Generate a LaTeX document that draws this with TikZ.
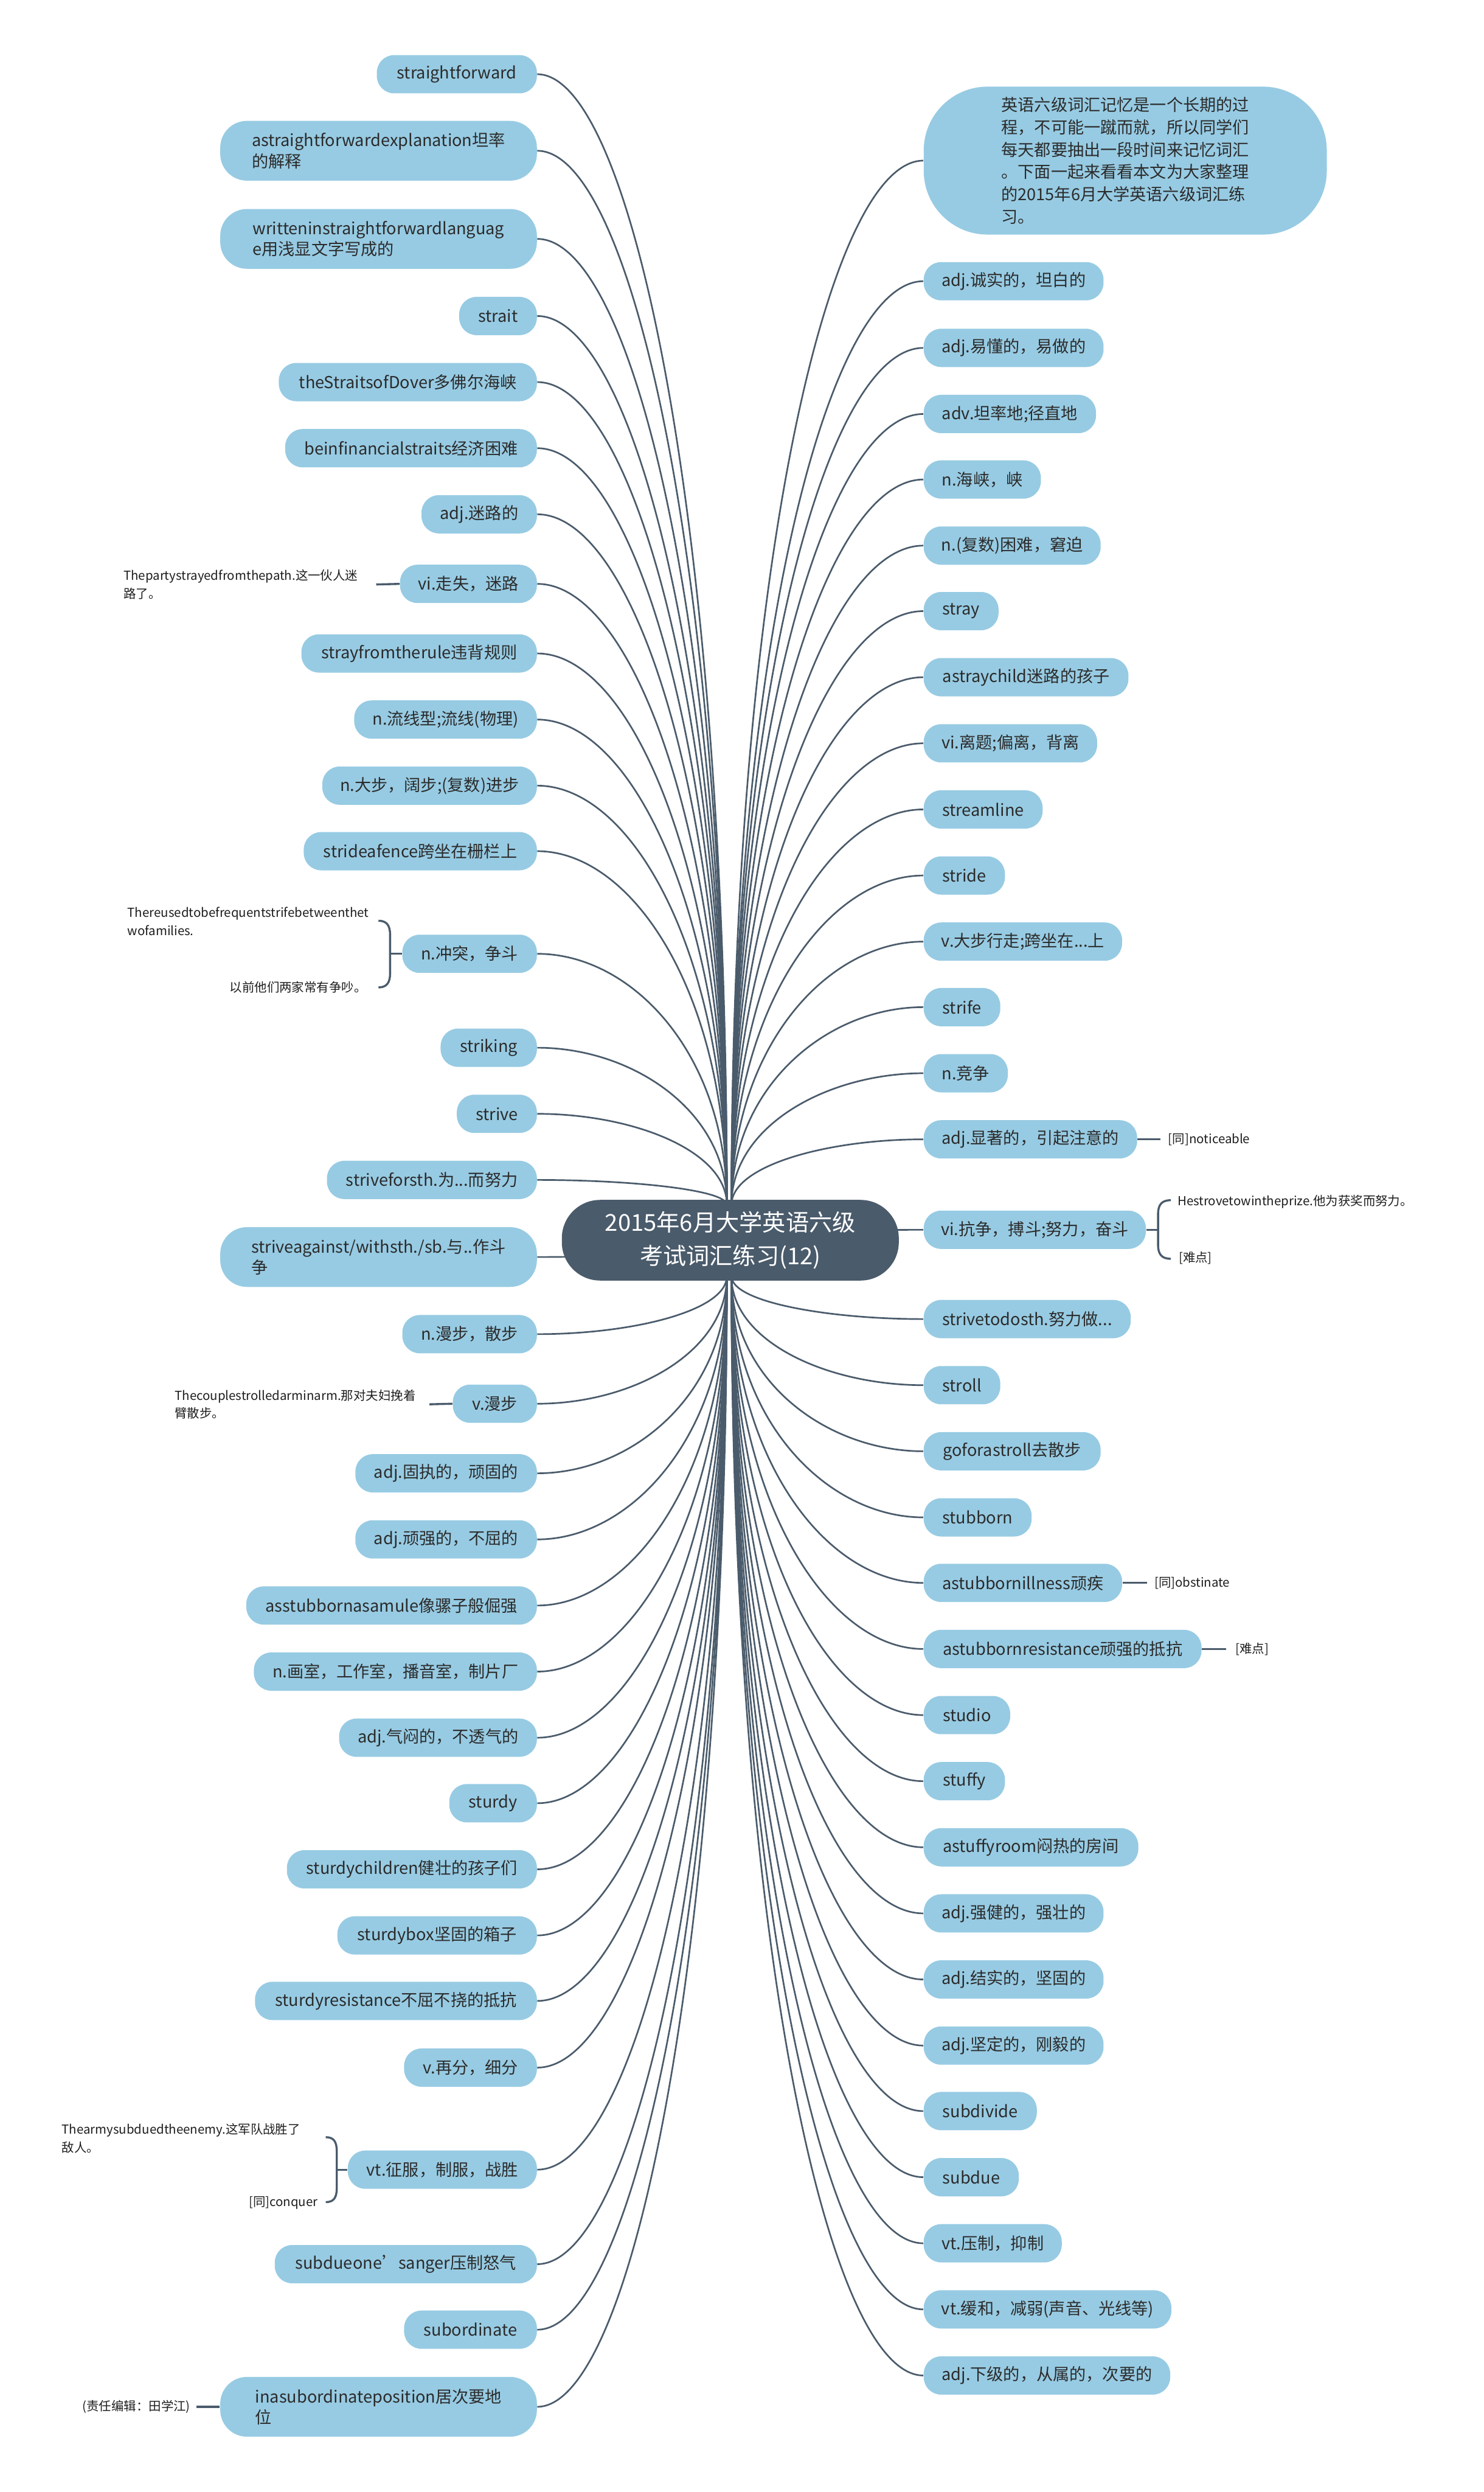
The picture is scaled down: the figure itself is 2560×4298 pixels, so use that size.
\documentclass[tikz,border=0pt]{standalone}
\usepackage{fontspec}
\setmainfont{Noto Sans CJK SC}
\usetikzlibrary{calc,backgrounds}
\definecolor{nb}{HTML}{97CBE3}
\definecolor{rootc}{HTML}{4A5B6B}
\definecolor{ln}{HTML}{4A5B6B}
\definecolor{tx}{HTML}{2B2B2B}
\definecolor{tx2}{HTML}{1E1E1E}
\tikzset{
  leaf/.style={fill=nb, rounded corners=0.3cm, minimum height=0.66cm, inner xsep=0.2cm, inner ysep=0.08cm, text=tx, font=\fontsize{8.1pt}{10.3pt}\selectfont},
  two/.style={align=left, minimum height=1.03cm, rounded corners=0.46cm, inner xsep=0.5cm},
  rootbox/.style={fill=rootc, text=white, rounded corners=0.66cm, minimum width=5.81cm, minimum height=1.39cm, align=center, font=\fontsize{11.4pt}{16.2pt}\selectfont},
  note/.style={text=tx2, font=\fontsize{6.1pt}{8.8pt}\selectfont, inner sep=0pt, align=left},
  conn/.style={draw=ln, line width=0.8pt},
  shortlink/.style={draw=ln, line width=1pt}
}
\newcommand\mmL[5][]{\node[leaf,anchor=east,minimum width=#3cm,#1] (#2) at (927,#4) {#5};}
\newcommand\mmR[5][]{\node[leaf,anchor=west,minimum width=#3cm,#1] (#2) at (1593,#4) {#5};}
\newcommand\mmlink[2]{\draw[conn] let \p1=(#1), \p2=(#2) in (\p1) .. controls ({0.5*\x1+0.5*\x2},\y1) and (\x2,{0.6*\y1+0.4*\y2}) .. (\p2);}
\begin{document}
\begin{tikzpicture}[x=0.01cm,y=-0.01cm]
\useasboundingbox (0,0) rectangle (2560,4298);
% root
\node[rootbox] (root) at (1260,2139) {2015年6月大学英语六级\\考试词汇练习(12)};
\coordinate (cl) at (1254,2139);
\coordinate (cr) at (1262,2139);
\coordinate (tl) at (1254,2078);
\coordinate (tr) at (1262,2078);
\coordinate (bl) at (1254,2201);
\coordinate (br) at (1262,2201);
% left nodes
\mmL{L1}{2.76}{128}{straightforward}
\mmL[two]{L2}{5.46}{260}{astraightforwardexplanation坦率\\的解释}
\mmL[two]{L3}{5.46}{412}{writteninstraightforwardlanguag\\e用浅显文字写成的}
\mmL{L4}{1.34}{545}{strait}
\mmL{L5}{4.45}{659}{theStraitsofDover多佛尔海峡}
\mmL{L6}{4.34}{773}{beinfinancialstraits经济困难}
\mmL{L7}{1.99}{887}{adj.迷路的}
\mmL{L8}{2.36}{1007}{vi.走失，迷路}
\mmL{L9}{4.06}{1127}{strayfromtherule违背规则}
\mmL{L10}{3.15}{1241}{n.流线型;流线(物理)}
\mmL{L11}{3.70}{1355}{n.大步，阔步;(复数)进步}
\mmL{L12}{4.02}{1468}{strideafence跨坐在栅栏上}
\mmL{L13}{2.32}{1645}{n.冲突，争斗}
\mmL{L14}{1.66}{1807}{striking}
\mmL{L15}{1.38}{1921}{strive}
\mmL{L16}{3.62}{2035}{striveforsth.为...而努力}
\mmL[two]{L17}{5.46}{2168}{striveagainst/withsth./sb.与..作斗\\争}
\mmL{L18}{2.32}{2301}{n.漫步，散步}
\mmL{L19}{1.45}{2421}{v.漫步}
\mmL{L20}{3.13}{2541}{adj.固执的，顽固的}
\mmL{L21}{3.13}{2655}{adj.顽强的，不屈的}
\mmL{L22}{5.01}{2769}{asstubbornasamule像骡子般倔强}
\mmL{L23}{4.88}{2883}{n.画室，工作室，播音室，制片厂}
\mmL{L24}{3.41}{2997}{adj.气闷的，不透气的}
\mmL{L25}{1.51}{3110}{sturdy}
\mmL{L26}{4.31}{3224}{sturdychildren健壮的孩子们}
\mmL{L27}{3.44}{3338}{sturdybox坚固的箱子}
\mmL{L28}{4.86}{3451}{sturdyresistance不屈不挠的抵抗}
\mmL{L29}{2.29}{3566}{v.再分，细分}
\mmL{L30}{3.26}{3742}{vt.征服，制服，战胜}
\mmL{L31}{4.52}{3905}{subdueone’sanger压制怒气}
\mmL{L32}{2.29}{4018}{subordinate}
\mmL[two]{L33}{5.46}{4151}{inasubordinateposition居次要地\\位}
% right nodes
\node[leaf, anchor=west, align=left, minimum width=6.95cm, minimum height=2.55cm, rounded corners=1.1cm, font=\fontsize{8.1pt}{11pt}\selectfont] (R0) at (1593,277) {英语六级词汇记忆是一个长期的过\\程，不可能一蹴而就，所以同学们\\每天都要抽出一段时间来记忆词汇\\。下面一起来看看本文为大家整理\\的2015年6月大学英语六级词汇练\\习。};
\mmR{R1}{3.10}{485}{adj.诚实的，坦白的}
\mmR{R2}{3.10}{600}{adj.易懂的，易做的}
\mmR{R3}{2.97}{714}{adv.坦率地;径直地}
\mmR{R4}{2.02}{827}{n.海峡，峡}
\mmR{R5}{3.05}{941}{n.(复数)困难，窘迫}
\mmR{R6}{1.29}{1054}{stray}
\mmR{R7}{3.53}{1168}{astraychild迷路的孩子}
\mmR{R8}{2.99}{1282}{vi.离题;偏离，背离}
\mmR{R9}{2.05}{1396}{streamline}
\mmR{R10}{1.40}{1510}{stride}
\mmR{R11}{3.42}{1624}{v.大步行走;跨坐在...上}
\mmR{R12}{1.32}{1737}{strife}
\mmR{R13}{1.45}{1851}{n.竞争}
\mmR{R14}{3.68}{1965}{adj.显著的，引起注意的}
\mmR{R15}{3.83}{2121}{vi.抗争，搏斗;努力，奋斗}
\mmR{R16}{3.57}{2275}{strivetodosth.努力做...}
\mmR{R17}{1.32}{2389}{stroll}
\mmR{R18}{3.05}{2503}{goforastroll去散步}
\mmR{R19}{1.86}{2617}{stubborn}
\mmR{R20}{3.42}{2730}{astubbornillness顽疾}
\mmR{R21}{4.79}{2844}{astubbornresistance顽强的抵抗}
\mmR{R22}{1.49}{2958}{studio}
\mmR{R23}{1.40}{3072}{stuffy}
\mmR{R24}{3.70}{3186}{astuffyroom闷热的房间}
\mmR{R25}{3.10}{3300}{adj.强健的，强壮的}
\mmR{R26}{3.10}{3414}{adj.结实的，坚固的}
\mmR{R27}{3.10}{3528}{adj.坚定的，刚毅的}
\mmR{R28}{1.95}{3641}{subdivide}
\mmR{R29}{1.64}{3755}{subdue}
\mmR{R30}{2.38}{3869}{vt.压制，抑制}
\mmR{R31}{4.27}{3983}{vt.缓和，减弱(声音、光线等)}
\mmR{R32}{4.25}{4097}{adj.下级的，从属的，次要的}
% notes left
\node[note, anchor=east] (c8) at (618,1008) {Thepartystrayedfromthepath.这一伙人迷\\路了。};
\draw[shortlink] ([xshift=0.31cm]c8.east) -- (L8.west);
\node[note, anchor=east] (c13a) at (637,1589) {Thereusedtobefrequentstrifebetweenthet\\wofamilies.};
\node[note, anchor=east] (c13b) at (633,1703) {以前他们两家常有争吵。};
\coordinate (b13) at (673,1645);
\draw[shortlink] (L13.west) -- (b13);
\draw[shortlink] (653,1588) .. controls (667,1588) and (673,1596) .. (673,1612) -- (673,1679) .. controls (673,1695) and (667,1703) .. (653,1703);
\node[note, anchor=east] (c19) at (718,2422) {Thecouplestrolledarminarm.那对夫妇挽着\\臂散步。};
\draw[shortlink] ([xshift=0.23cm]c19.east) -- (L19.west);
\node[note, anchor=west] (c30a) at (106,3688) {Thearmysubduedtheenemy.这军队战胜了\\敌人。};
\node[note, anchor=east] (c30b) at (549,3799) {[同]conquer};
\coordinate (b30) at (581,3742);
\draw[shortlink] (L30.west) -- (b30);
\draw[shortlink] (562,3686) .. controls (576,3686) and (581,3694) .. (581,3710) -- (581,3774) .. controls (581,3790) and (576,3798) .. (562,3798);
\node[note, anchor=east] (c33) at (329,4151) {(责任编辑：田学江)};
\draw[shortlink] ([xshift=0.1cm]c33.east) -- (L33.west);
% notes right
\node[note, anchor=west] (c14) at (2015,1965) {[同]noticeable};
\draw[shortlink] (R14.east) -- ([xshift=-0.13cm]c14.west);
\node[note, anchor=west] (c15a) at (2031,2073) {Hestrovetowintheprize.他为获奖而努力。};
\node[note, anchor=west] (c15b) at (2033,2170) {[难点]};
\coordinate (b15) at (1998,2121);
\draw[shortlink] (R15.east) -- (b15);
\draw[shortlink] (2020,2070) .. controls (2004,2070) and (1998,2078) .. (1998,2094) -- (1998,2147) .. controls (1998,2163) and (2004,2171) .. (2020,2171);
\node[note, anchor=west] (c20) at (1991,2730) {[同]obstinate};
\draw[shortlink] (R20.east) -- ([xshift=-0.12cm]c20.west);
\node[note, anchor=west] (c21) at (2131,2844) {[难点]};
\draw[shortlink] (R21.east) -- ([xshift=-0.16cm]c21.west);
% connectors
\begin{pgfonlayer}{background}
\fill[white] (0,0) rectangle (2560,4298);
\foreach \n in {1,...,16} {\coordinate (tmp) at (L\n.east); \mmlink{tmp}{tl}}
\foreach \n in {18,...,33} {\coordinate (tmp) at (L\n.east); \mmlink{tmp}{bl}}
\coordinate (tmp) at (L17.east); \mmlink{tmp}{cl}
\foreach \n in {0,...,14} {\coordinate (tmp) at (R\n.west); \mmlink{tmp}{tr}}
\foreach \n in {16,...,32} {\coordinate (tmp) at (R\n.west); \mmlink{tmp}{br}}
\coordinate (tmp) at (R15.west); \mmlink{tmp}{cr}
\end{pgfonlayer}
\end{tikzpicture}
\end{document}
